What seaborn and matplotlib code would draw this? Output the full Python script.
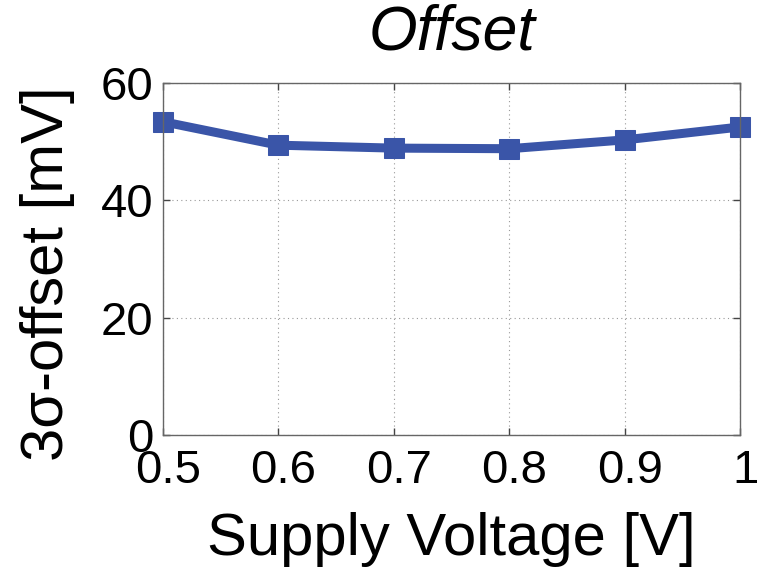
import matplotlib
matplotlib.use("Agg")
import matplotlib.pyplot as plt
import matplotlib.transforms as mtransforms
import seaborn as sns
import pandas as pd

voltage = [0.5, 0.6, 0.7, 0.8, 0.9, 1.0]
offset = [53.4, 49.4, 48.9, 48.8, 50.3, 52.5]
xticks = [0.5, 0.6, 0.7, 0.8, 0.9, 1.0]
xticklabels = ["0.5", "0.6", "0.7", "0.8", "0.9", "1"]
yticks = [0, 20, 40, 60]

sns.set_style("white")
plt.rcParams['font.family'] = ['Liberation Sans', 'DejaVu Sans']
plt.rcParams['text.color'] = 'black'
plt.rcParams['xtick.color'] = 'black'
plt.rcParams['ytick.color'] = 'black'
plt.rcParams['axes.labelcolor'] = 'black'

df = pd.DataFrame({"V": voltage, "O": offset})
fig = plt.figure(figsize=(7.61, 5.67), dpi=100)
ax = fig.add_axes([163/761, 1-435/567, (740-163)/761, (435-83)/567])
sns.lineplot(data=df, x="V", y="O", ax=ax, color="#3A55A8", linewidth=6.5,
             marker="s", markersize=14.5, markeredgecolor="#3A55A8", clip_on=False)
ax.set_xlim(0.5, 1.0)
ax.set_ylim(0, 60)
ax.set_xticks(xticks)
ax.set_xticklabels(xticklabels)
ax.set_yticks(yticks)
ax.grid(True, linestyle=(0, (1, 3)), color="#999999", linewidth=0.8)
for s in ax.spines.values():
    s.set_color("#666666")
    s.set_linewidth(1.0)
ax.tick_params(direction="in", length=5, width=1, colors="#444444", labelcolor="black",
               labelsize=34, top=True, right=True, bottom=True, left=True)
ax.tick_params(axis="x", pad=10)
ax.tick_params(axis="y", pad=7)
shift = mtransforms.ScaledTranslation(5/100, 0, fig.dpi_scale_trans)
for lab in ax.get_xticklabels():
    lab.set_transform(lab.get_transform() + shift)
ax.set_xlabel("Supply Voltage [V]", fontsize=43, va="baseline")
ax.xaxis.set_label_coords(0.5, (435-555)/352)
ax.set_ylabel("3σ-offset [mV]", fontsize=43, va="baseline")
ax.yaxis.set_label_coords((63-163)/577, (435-274)/352)
ax.set_title("Offset", fontsize=45, style="italic", pad=24)
fig.savefig("out.png", dpi=100)
